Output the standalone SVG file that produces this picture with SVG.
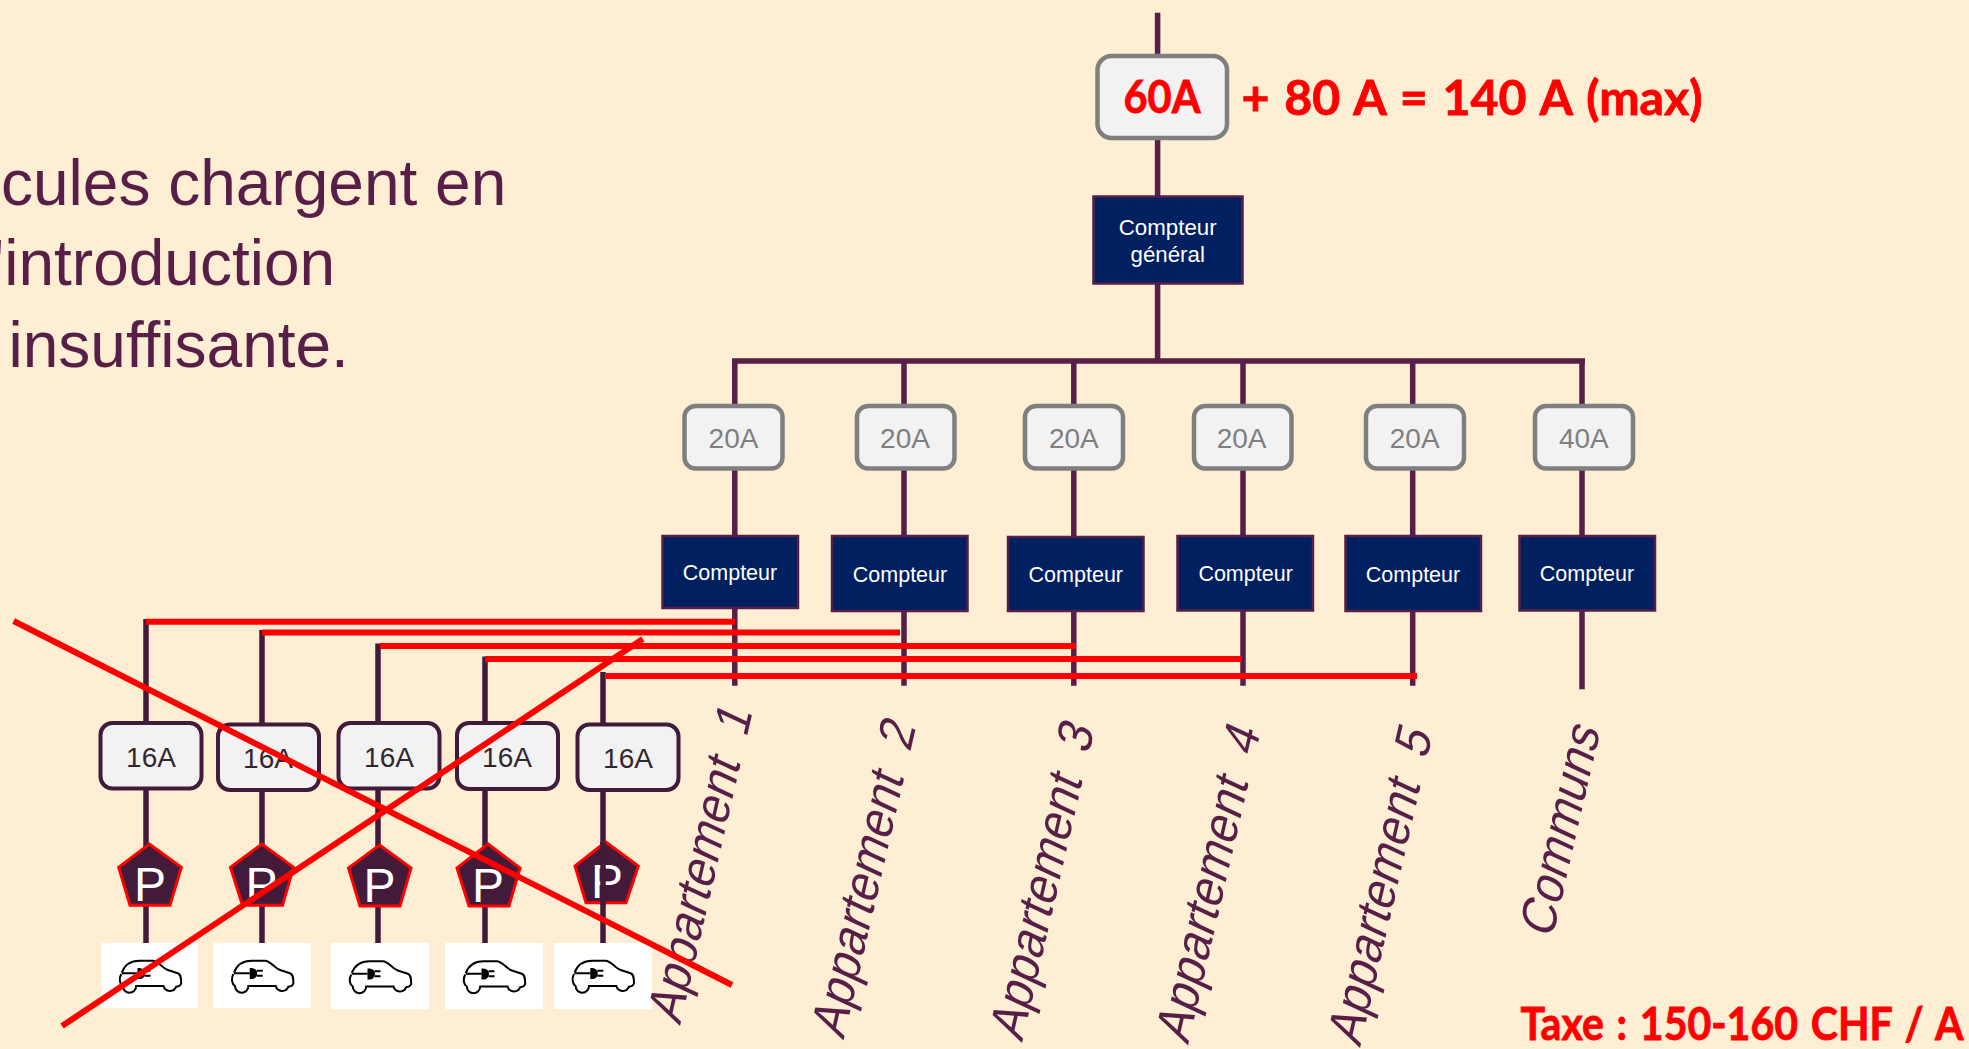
<svg xmlns="http://www.w3.org/2000/svg" width="1969" height="1049" viewBox="0 0 1969 1049">
<style>
text{font-family:"Liberation Sans",Arial,sans-serif}
.w{stroke:#571f47;stroke-width:5.5;fill:none}
.d{stroke:#421a3a;stroke-width:5.5;fill:none}
.r{stroke:#ff0000;stroke-width:6;fill:none}
.g rect{fill:#f2f2f2;stroke:#7f7f7f;stroke-width:4.5}
.g text{font-size:28px;fill:#7f7f7f;text-anchor:middle}
.c rect{fill:#002060;stroke:#571f47;stroke-width:2.5}
.c text{font-size:21.500px;fill:#fff;text-anchor:middle}
.b rect{fill:#f2f2f2;stroke:#421a3a;stroke-width:4}
.b text{font-size:28px;fill:#33262f;text-anchor:middle}
.p polygon{fill:#421a3a;stroke:#ff0000;stroke-width:3}
.p text{font-size:48px;fill:#fff;text-anchor:middle}
.l{font-size:47px;fill:#571f47}
.h{font-size:64px;fill:#571f47}
.t{font-family:Lato,"Open Sans",sans-serif;font-weight:700;fill:#ff0000;stroke:#ff0000;stroke-width:.8;word-spacing:3px}
.v rect{fill:#fff}
</style>
<defs>
<g id="car">
<path d="M2.3 12.7C5 5 11.7 .7 20 .7L33.3 .7C38.3 .7 43.3 8.3 48.3 10L58.3 13.3C61 14.3 61.7 16.7 61.7 23.3C61 25.7 59 26.7 56.7 26.7A6.7 6.7 0 0 1 44 26L16.7 26A6.7 6.7 0 0 1 3.3 26C0 24 -.7 18.3 1.7 14" fill="none" stroke="#000" stroke-width="2"/>
<path d="M2.3 13.3H18M25 10.7H31M25 15.700H31" fill="none" stroke="#000" stroke-width="2"/>
<path d="M18 8H20A5.500 5.500 0 0 1 25.500 13.500A5.500 5.500 0 0 1 20 19H18Z" fill="#000"/>
</g>
</defs>
<rect width="1969" height="1049" fill="#fdeed4"/>
<g id="connectors">
<path class="w" d="M1157.600 12.700V361M732 361H1585M734.800 361V685.700M904 361V685.700M1073.800 361V685.700M1243 361V685.700M1412.700 361V685.700M1582 361V689.300"/>
<path class="d" d="M146 619V943M262 630V943M378 643.500V943M485 656.500V943M603 672V943"/>
</g>
<g id="text-intro" class="h">
<text x="1" y="205">cules chargent en</text>
<text x="-8" y="285">'introduction</text>
<text x="8.500" y="366.500">insuffisante.</text>
</g>
<g id="breaker-main" class="g"><rect x="1097.500" y="56" width="129.500" height="82" rx="14"/><text class="t" x="1162" y="113" style="font-size:45px;fill:#ff0000;font-family:Lato,'Open Sans',sans-serif" textLength="77" lengthAdjust="spacingAndGlyphs">60A</text></g>
<text id="sum" class="t" x="1241.500" y="115" font-size="48" textLength="461" lengthAdjust="spacingAndGlyphs">+ 80 A = 140 A (max)</text>
<g id="meter-main" class="c"><rect x="1093.500" y="196.500" width="149" height="87"/><text x="1167.700" y="235" style="font-size:22.300px">Compteur</text><text x="1167.700" y="261.500" style="font-size:22.300px">général</text></g>
<g id="b20-1" class="g"><rect x="684.500" y="406" width="98" height="62.500" rx="11"/><text x="733.500" y="447.700">20A</text></g>
<g id="b20-2" class="g"><rect x="857" y="406" width="97.500" height="62.500" rx="11"/><text x="905" y="447.700">20A</text></g>
<g id="b20-3" class="g"><rect x="1025" y="406" width="98" height="62.500" rx="11"/><text x="1073.800" y="447.700">20A</text></g>
<g id="b20-4" class="g"><rect x="1194" y="406" width="97.500" height="62.500" rx="11"/><text x="1241.600" y="447.700">20A</text></g>
<g id="b20-5" class="g"><rect x="1366" y="406" width="98" height="62.500" rx="11"/><text x="1414.700" y="447.700">20A</text></g>
<g id="b40" class="g"><rect x="1535" y="406" width="98" height="62.500" rx="11"/><text x="1583.800" y="447.700">40A</text></g>
<g id="meter-1" class="c"><rect x="662.500" y="536" width="135.500" height="72"/><text x="730" y="580">Compteur</text></g>
<g id="meter-2" class="c"><rect x="832" y="536" width="135.500" height="75"/><text x="900" y="581.700">Compteur</text></g>
<g id="meter-3" class="c"><rect x="1008" y="537" width="135.500" height="74"/><text x="1075.800" y="581.700">Compteur</text></g>
<g id="meter-4" class="c"><rect x="1177.500" y="536" width="135.500" height="74.500"/><text x="1245.600" y="581">Compteur</text></g>
<g id="meter-5" class="c"><rect x="1345.500" y="536" width="135.500" height="75"/><text x="1413" y="581.700">Compteur</text></g>
<g id="meter-6" class="c"><rect x="1519.500" y="536" width="135.500" height="74.500"/><text x="1587" y="581">Compteur</text></g>
<g id="b16-1" class="b"><rect x="100.500" y="723" width="101" height="65.500" rx="12"/><text x="151" y="767">16A</text></g>
<g id="b16-2" class="b"><rect x="218" y="724.500" width="101" height="65.500" rx="12"/><text x="268" y="768">16A</text></g>
<g id="b16-3" class="b"><rect x="338.500" y="723" width="101" height="65.500" rx="12"/><text x="389" y="767">16A</text></g>
<g id="b16-4" class="b"><rect x="457" y="723" width="101" height="66" rx="12"/><text x="507" y="767">16A</text></g>
<g id="b16-5" class="b"><rect x="577.500" y="724.500" width="101" height="65.500" rx="12"/><text x="628" y="768">16A</text></g>
<g id="park-1" class="p"><polygon points="149.300,844 181.300,867.300 170,905.300 130,905.300 118.700,867.300"/><text x="150" y="900.700">P</text></g>
<g id="park-2" class="p"><polygon points="261.700,844 293.500,867.300 282.500,905.300 242.500,905.300 230.500,867.300"/><text x="261.500" y="900.700">P</text></g>
<g id="park-3" class="p"><polygon points="379.500,845 411,868 400,906 360,906 348.500,868"/><text x="379.500" y="901.500">P</text></g>
<g id="park-4" class="p"><polygon points="488,844 520,868 509,906 469,906 457,868"/><text x="488" y="901.500">P</text></g>
<g id="park-5" class="p"><polygon points="605.700,842 638.300,866 626,902.700 586,902.700 575,866"/><text x="607" y="898">P</text><path class="d" d="M603 842V905"/></g>
<g id="car-1" class="v"><rect x="101" y="943" width="97" height="65"/><use href="#car" x="119.500" y="960"/></g>
<g id="car-2" class="v"><rect x="213" y="943" width="98" height="65"/><use href="#car" x="231.700" y="960"/></g>
<g id="car-3" class="v"><rect x="331" y="943" width="98" height="66"/><use href="#car" x="349.500" y="960.500"/></g>
<g id="car-4" class="v"><rect x="445" y="943" width="98" height="66"/><use href="#car" x="463.500" y="960.500"/></g>
<g id="car-5" class="v"><rect x="554" y="943" width="98" height="66"/><use href="#car" x="572.300" y="960"/></g>
<g id="labels" class="l">
<text xml:space="preserve" transform="translate(680 1026) rotate(-77) skewX(-12) scale(1 1.08)">Appartement  1</text>
<text xml:space="preserve" transform="translate(843.500 1040.500) rotate(-77) skewX(-12) scale(1 1.08)">Appartement  2</text>
<text xml:space="preserve" transform="translate(1022 1043) rotate(-77) skewX(-12) scale(1 1.08)">Appartement  3</text>
<text xml:space="preserve" transform="translate(1188 1045.500) rotate(-77) skewX(-12) scale(1 1.08)">Appartement  4</text>
<text xml:space="preserve" transform="translate(1360 1048) rotate(-77) skewX(-12) scale(1 1.08)">Appartement  5</text>
<text transform="translate(1552 940) rotate(-77) skewX(-12) scale(1 1.08)">Communs</text>
</g>
<g id="red-lines">
<path class="r" d="M146 621.700H735M262 632.500H900M380 646H1076M485 659H1242M606 676H1417"/>
<path class="r" d="M13.600 621L732 985M62 1026L642.800 639"/>
</g>
<text id="tax" class="t" x="1520.500" y="1040" font-size="45" textLength="443" lengthAdjust="spacingAndGlyphs">Taxe : 150-160 CHF / A</text>
</svg>
